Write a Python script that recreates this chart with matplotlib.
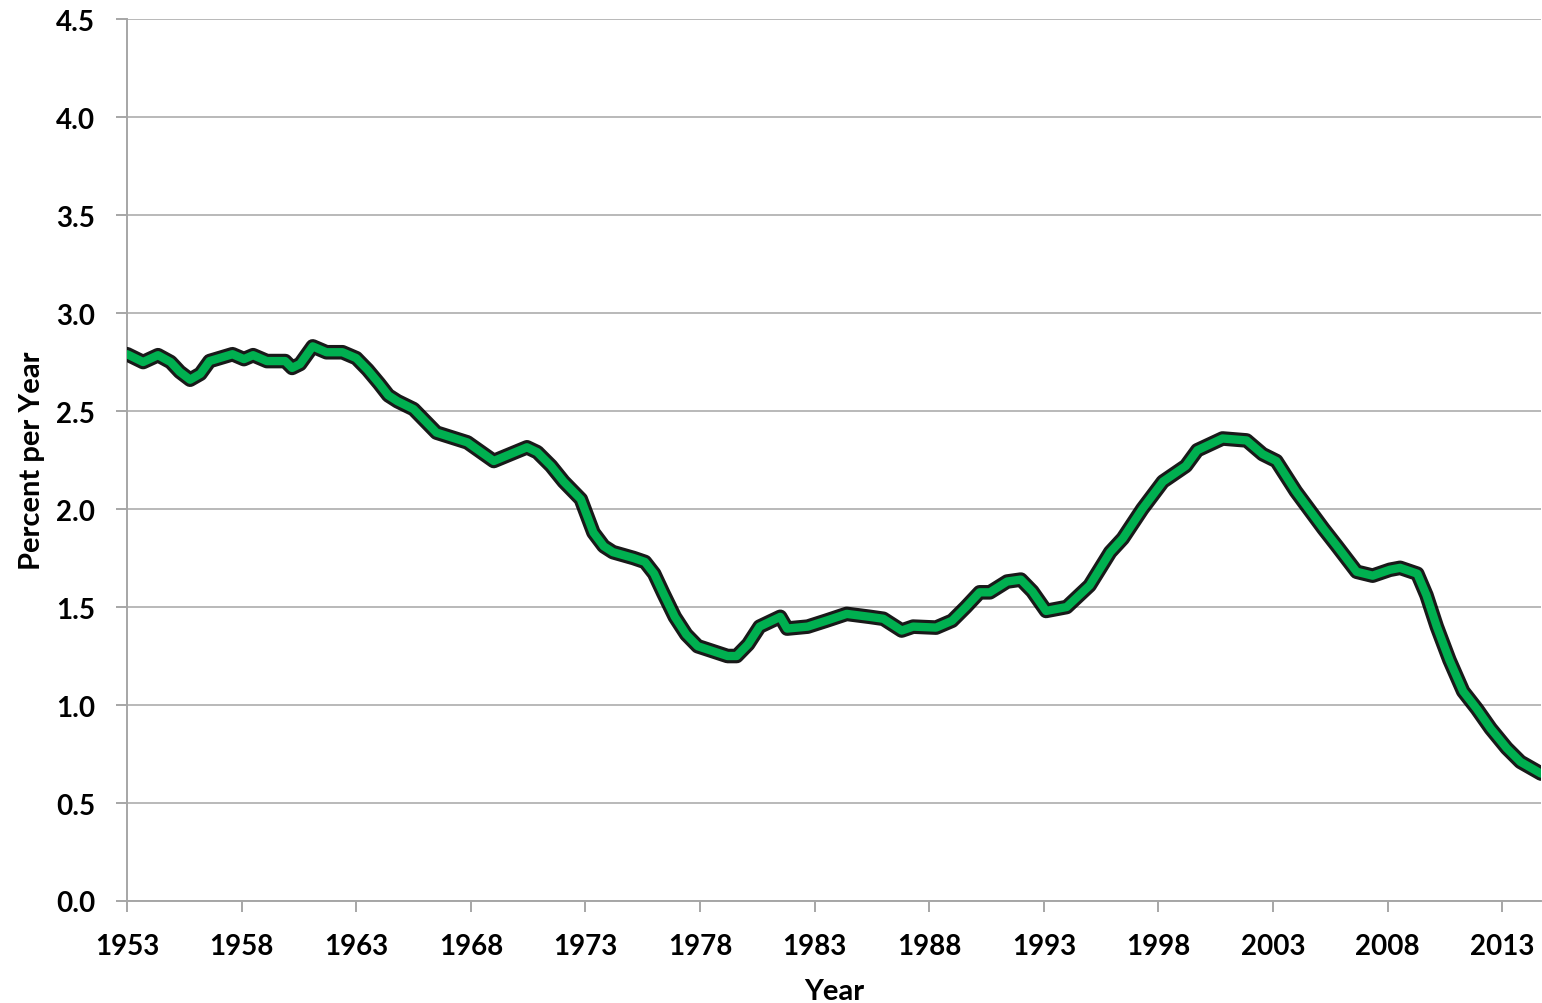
import matplotlib.pyplot as plt
from matplotlib.ticker import FormatStrFormatter

# Values
years = [1953.0, 1953.7, 1954.35, 1954.9, 1955.3, 1955.75, 1956.2, 1956.6, 1957.6,
         1958.1, 1958.5, 1959.1, 1959.9, 1960.2, 1960.55, 1961.1, 1961.7, 1962.4,
         1963.0, 1963.5, 1964.0, 1964.4, 1964.8, 1965.5, 1966.0, 1966.5, 1967.85, 1969.0,
         1970.45, 1970.9, 1971.5, 1972.05, 1972.8, 1973.35, 1973.8, 1974.2, 1975.1,
         1975.6, 1976.0, 1976.4, 1976.9, 1977.4, 1977.9, 1979.2, 1979.6, 1980.1, 1980.6,
         1981.5, 1981.8, 1982.7, 1983.5, 1984.4, 1985.4, 1986.0, 1986.8, 1987.3, 1988.3,
         1989.0, 1989.6, 1990.2, 1990.65, 1991.4, 1992.0, 1992.5, 1993.1, 1994.0, 1995.0,
         1995.9, 1996.45, 1997.3, 1998.2, 1999.2, 1999.7, 2000.8, 2001.85, 2002.55,
         2003.15, 2004.0, 2005.2, 2005.8, 2006.65, 2007.35, 2008.1, 2008.55, 2009.3,
         2009.7, 2010.15, 2010.7, 2011.3, 2011.9, 2012.5, 2013.2, 2013.8, 2014.7]
rate = [2.79, 2.75, 2.785, 2.75, 2.70, 2.66, 2.69, 2.755, 2.79,
        2.765, 2.785, 2.755, 2.755, 2.72, 2.74, 2.83, 2.80, 2.80,
        2.77, 2.71, 2.64, 2.58, 2.55, 2.51, 2.45, 2.39, 2.34, 2.245,
        2.315, 2.29, 2.22, 2.14, 2.05, 1.88, 1.81, 1.78, 1.75,
        1.73, 1.67, 1.57, 1.45, 1.36, 1.30, 1.25, 1.25, 1.31, 1.40,
        1.45, 1.39, 1.40, 1.43, 1.465, 1.45, 1.44, 1.38, 1.40, 1.395,
        1.43, 1.50, 1.575, 1.575, 1.63, 1.64, 1.58, 1.48, 1.50, 1.61,
        1.78, 1.85, 2.00, 2.14, 2.22, 2.30, 2.36, 2.35, 2.28,
        2.245, 2.09, 1.90, 1.81, 1.68, 1.66, 1.69, 1.70, 1.67,
        1.56, 1.40, 1.23, 1.07, 0.98, 0.88, 0.78, 0.71, 0.65]

x_ticks = list(range(1953, 2014, 5))
y_ticks = [0.0, 0.5, 1.0, 1.5, 2.0, 2.5, 3.0, 3.5, 4.0, 4.5]

plt.rcParams['font.family'] = ['Lato', 'DejaVu Sans']
plt.rcParams['font.weight'] = 'bold'

fig = plt.figure(figsize=(15.42, 10.04), dpi=100)
ax = fig.add_axes([0.0824, 0.1016, 0.9170, 0.8784])

# black outline, then green line on top
ax.plot(years, rate, color='black', linewidth=10.5, solid_capstyle='round',
        solid_joinstyle='round', alpha=0.9, zorder=3)
ax.plot(years, rate, color='#00B050', linewidth=6, solid_capstyle='round',
        solid_joinstyle='round', zorder=4)

ax.set_xlim(1953, 2014.7)
ax.set_ylim(0, 4.5)
ax.set_xticks(x_ticks)
ax.set_yticks(y_ticks)
ax.yaxis.set_major_formatter(FormatStrFormatter('%.1f'))

ax.grid(axis='y', color='#A6A6A6', linewidth=1.1)
ax.set_axisbelow(True)
for side in ['top', 'right']:
    ax.spines[side].set_visible(False)
for side in ['left', 'bottom']:
    ax.spines[side].set_color('#A6A6A6')
    ax.spines[side].set_linewidth(1.4)

ax.tick_params(axis='both', colors='#A6A6A6', labelcolor='black', width=1.4,
               length=8, labelsize=20, pad=15)

ax.set_xlabel("Year", fontsize=21, fontweight='bold', labelpad=14)
ax.set_ylabel("Percent per Year", fontsize=21, fontweight='bold', labelpad=8)

fig.savefig("out.png", dpi=100)
